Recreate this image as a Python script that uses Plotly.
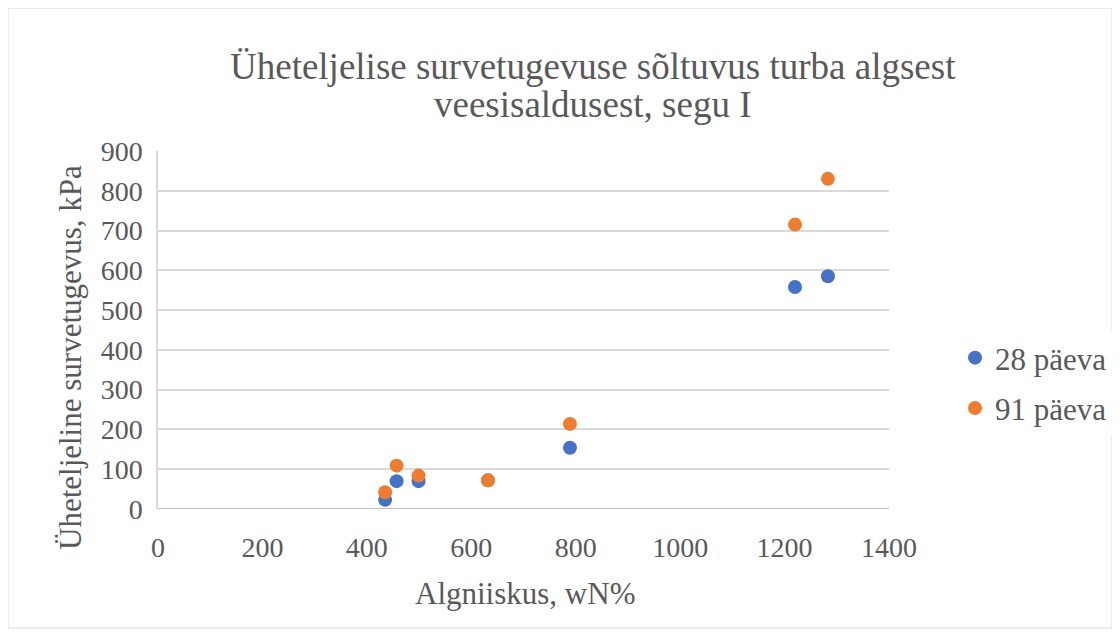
import plotly.graph_objects as go

x_vals = [435, 457, 499, 632, 789, 1220, 1283]
y_28 = [23, 70, 70, 72, 154, 558, 585]
y_91 = [42, 109, 84, 72, 214, 715, 830]
names = ["28 päeva", "91 päeva"]
colors = ["#4472C4", "#ED7D31"]
x_ticks = [0, 200, 400, 600, 800, 1000, 1200, 1400]
y_ticks = [0, 100, 200, 300, 400, 500, 600, 700, 800, 900]
title_lines = ["Üheteljelise survetugevuse sõltuvus turba algsest",
               "veesisaldusest, segu I"]

font_family = "Liberation Serif"
grey = "#595959"

fig = go.Figure()
for name, ys, col, grp in zip(names, [y_28, y_91], colors, ["a", "b"]):
    fig.add_trace(go.Scatter(x=x_vals, y=ys, mode="markers", name=name,
                             legendgroup=grp,
                             marker=dict(color=col, size=14)))

# page body adds an 8px offset; margins compensate
PW, PH = 731, 358
L, T = 150, 143
B = 636 - T - PH
R = 1120 - L - PW
bottom = T + PH


def px(x):
    return (x - 8 - L) / PW


def py(y):
    return (bottom - (y - 8)) / PH


fig.update_layout(
    width=1120, height=636,
    margin=dict(l=L, r=R, t=T, b=B, autoexpand=False),
    paper_bgcolor="white", plot_bgcolor="white",
    font=dict(family=font_family, size=27, color=grey),
    showlegend=True,
    legend=dict(x=px(955), y=py(331), xanchor="left", yanchor="top",
                font=dict(family=font_family, size=31, color=grey),
                tracegroupgap=7, itemwidth=30),
    xaxis=dict(range=[0, 1400], tickvals=x_ticks, showgrid=False,
               zeroline=False, showline=False, ticks="",
               ticklabelstandoff=19,
               tickfont=dict(family=font_family, size=28, color=grey)),
    yaxis=dict(range=[0, 900], tickvals=y_ticks, showgrid=True,
               gridcolor="#D9D9D9", gridwidth=1.5, zeroline=False,
               showline=True, linecolor="#D9D9D9", linewidth=1.5, ticks="",
               ticklabelstandoff=8,
               tickfont=dict(family=font_family, size=28, color=grey)),
    annotations=[
        dict(text=title_lines[0], x=px(593), y=py(67), xref="paper", yref="paper",
             showarrow=False, xanchor="center", yanchor="middle",
             font=dict(size=37, color=grey, family=font_family)),
        dict(text=title_lines[1], x=px(593), y=py(105), xref="paper", yref="paper",
             showarrow=False, xanchor="center", yanchor="middle",
             font=dict(size=37, color=grey, family=font_family)),
        dict(text="Algniiskus, wN%", x=px(525), y=py(593), xref="paper", yref="paper",
             showarrow=False, xanchor="center", yanchor="middle",
             font=dict(size=31, color=grey, family=font_family)),
        dict(text="Üheteljeline survetugevus, kPa", x=px(70), y=py(358),
             xref="paper", yref="paper", showarrow=False, textangle=-90,
             xanchor="center", yanchor="middle",
             font=dict(size=31, color=grey, family=font_family)),
    ],
    shapes=[
        dict(type="line", xref="x", yref="y", x0=0, x1=1400, y0=0, y1=0,
             line=dict(color="#BFBFBF", width=2), layer="below"),
        dict(type="rect", xref="paper", yref="paper",
             x0=px(8), x1=px(1112), y0=py(628), y1=py(8),
             line=dict(color="#D9D9D9", width=1)),
    ],
)

fig.write_html("out.html")
